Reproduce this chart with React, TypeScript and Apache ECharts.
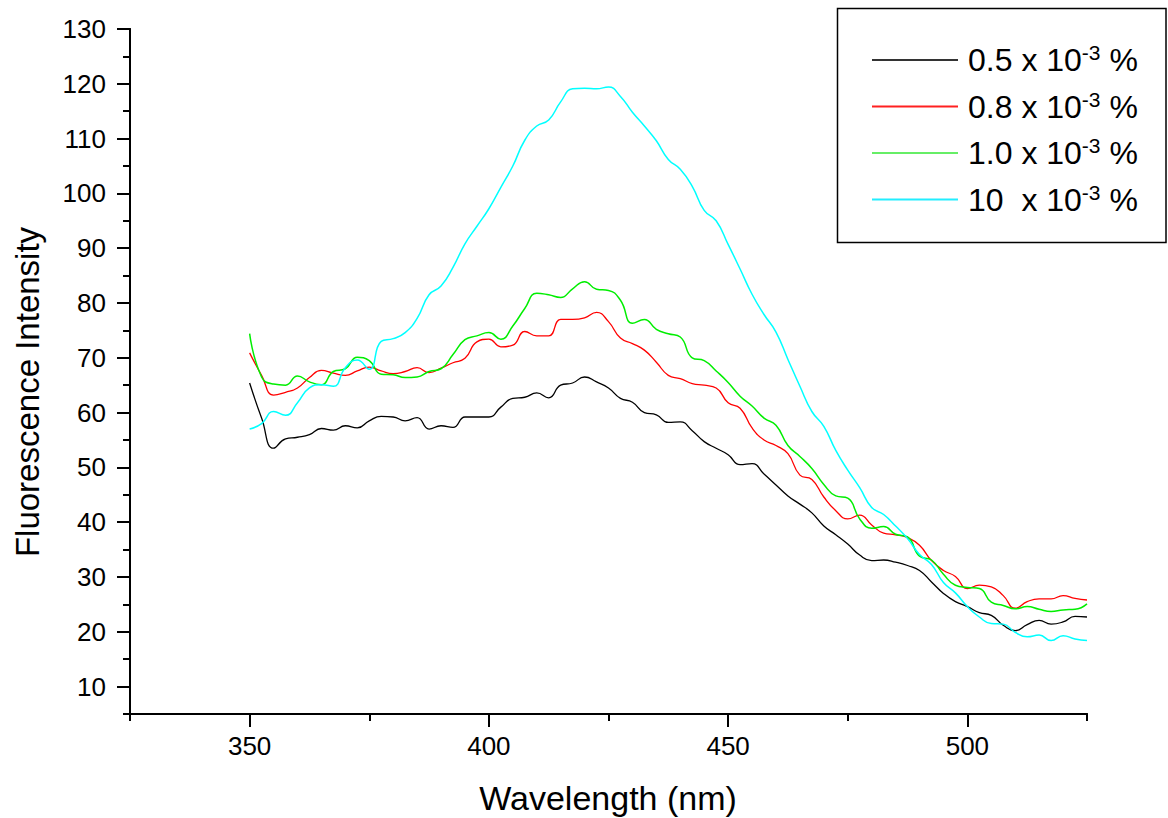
import React, { useEffect, useRef } from "react";
import * as echarts from "echarts";

const FONT = "'Liberation Sans', Arial, sans-serif";

const WAVELENGTH = [
  350, 352.5, 355, 357.5, 360, 362.5, 365, 367.5, 370, 372.5, 375, 377.5, 380, 382.5, 385, 387.5,
  390, 392.5, 395, 397.5, 400, 402.5, 405, 407.5, 410, 412.5, 415, 417.5, 420, 422.5, 425, 427.5,
  430, 432.5, 435, 437.5, 440, 442.5, 445, 447.5, 450, 452.5, 455, 457.5, 460, 462.5, 465, 467.5,
  470, 472.5, 475, 477.5, 480, 482.5, 485, 487.5, 490, 492.5, 495, 497.5, 500, 502.5, 505, 507.5,
  510, 512.5, 515, 517.5, 520, 522.5, 525,
];

const BLACK_05 = [
  65.4, 59.0, 53.5, 55.2, 55.5, 56.0, 57.1, 56.8, 57.6, 57.2, 58.5, 59.3, 59.2, 58.5, 59.1, 57.0,
  57.6, 57.3, 59.2, 59.2, 59.2, 61.0, 62.6, 62.8, 63.6, 62.7, 65.0, 65.4, 66.5, 65.6, 64.5, 62.6,
  61.9, 60.0, 59.6, 58.2, 58.3, 56.7, 54.7, 53.5, 52.3, 50.5, 50.7, 48.8, 46.8, 44.8, 43.3, 41.7,
  39.3, 37.7, 36.0, 34.0, 33.0, 33.1, 32.7, 32.1, 31.2, 29.1, 27.0, 25.5, 24.6, 23.5, 23.0, 21.2,
  20.2, 21.3, 22.1, 21.4, 21.8, 22.8, 22.7,
];

const RED_08 = [
  70.9, 66.8, 63.2, 63.7, 64.5, 66.4, 67.7, 67.2, 66.8, 67.6, 68.3, 67.6, 67.1, 67.5, 68.2, 67.3,
  68.1, 69.1, 69.9, 72.9, 73.4, 72.0, 72.3, 74.8, 74.0, 74.0, 77.0, 77.0, 77.3, 78.3, 76.6, 73.6,
  72.6, 71.4, 69.2, 66.8, 66.2, 65.3, 65.0, 64.5, 61.8, 60.8, 57.2, 55.0, 54.0, 52.5, 48.6, 47.8,
  44.6, 42.1, 40.6, 41.3, 39.5, 38.0, 37.7, 37.2, 35.8, 33.0, 31.2, 30.1, 27.9, 28.5, 28.2, 26.6,
  24.3, 25.5, 26.0, 26.0, 26.6, 26.1, 25.8,
];

const GREEN_10 = [
  74.4, 66.5, 65.2, 65.0, 66.7, 65.6, 65.1, 67.5, 68.0, 70.1, 69.5, 67.0, 66.9, 66.4, 66.5, 67.5,
  68.0, 70.6, 73.3, 74.0, 74.6, 73.4, 75.8, 79.0, 81.8, 81.5, 81.0, 82.6, 83.9, 82.5, 82.3, 80.5,
  76.3, 77.0, 75.2, 74.4, 73.8, 70.0, 69.5, 67.6, 65.5, 63.0, 61.2, 59.0, 57.7, 54.0, 52.0, 49.8,
  46.9, 44.8, 44.4, 40.6, 38.9, 39.2, 37.8, 37.3, 33.8, 33.1, 30.5, 28.5, 28.1, 27.9, 25.4, 24.8,
  24.2, 24.6, 24.1, 23.7, 24.0, 24.1, 25.1,
];

const CYAN_100 = [
  57.0, 58.0, 60.2, 59.5, 61.8, 64.5, 65.1, 64.8, 68.2, 69.6, 67.9, 73.0, 73.5, 74.6, 77.2, 81.5,
  83.1, 86.5, 90.8, 94.0, 97.2, 101.1, 105.0, 109.7, 112.3, 113.4, 116.7, 119.1, 119.2, 119.1, 119.4, 117.7,
  114.8, 112.3, 109.6, 106.2, 104.4, 101.3, 96.9, 95.0, 90.7, 86.2, 81.6, 77.9, 74.7, 69.7, 64.8, 60.2,
  57.5, 53.1, 49.5, 46.3, 42.7, 41.4, 39.3, 37.0, 34.1, 32.3, 29.0, 27.1, 24.6, 22.7, 21.5, 21.4,
  19.9, 19.1, 19.4, 18.4, 19.3, 18.7, 18.4,
];

const LEGEND_PREFIX = ["0.5 x 10", "0.8 x 10", "1.0 x 10", "10  x 10"];
const EXPONENT = "-3";
const SUFFIX = " %";
const SERIES_VALUES = [BLACK_05, RED_08, GREEN_10, CYAN_100];
const SERIES_COLORS = ["#000000", "#ff0000", "#00ee00", "#00ffff"];
const LEGEND_COLORS = ["#333333", "#ff2020", "#66ee66", "#22eeff"];
const SERIES_WIDTHS = [1.3, 1.3, 1.5, 1.5];

const X_MAJOR = [350, 400, 450, 500];
const Y_MAJOR = [10, 20, 30, 40, 50, 60, 70, 80, 90, 100, 110, 120, 130];

const X_TITLE = "Wavelength (nm)";
const Y_TITLE = "Fluorescence Intensity";

export default function App() {
  const ref = useRef<HTMLDivElement>(null);

  useEffect(() => {
    if (!ref.current) return;
    const chart = echarts.init(ref.current, null, { renderer: "svg" });
    const names = LEGEND_PREFIX.map((p) => p + EXPONENT + SUFFIX);

    const axisLine = { show: true, lineStyle: { color: "#000", width: 2 } };

    chart.setOption({
      animation: false,
      backgroundColor: "#ffffff",
      grid: { left: 130, top: 29, right: 81, bottom: 104, containLabel: false },
      xAxis: [
        {
          type: "value",
          min: 325,
          max: 525,
          axisLine,
          splitLine: { show: false },
          axisTick: { show: true, customValues: X_MAJOR, length: 13, lineStyle: { color: "#000", width: 2 } },
          axisLabel: {
            show: true,
            customValues: X_MAJOR,
            margin: 19,
            color: "#000",
            fontSize: 26,
            fontFamily: FONT,
          },
        },
        {
          type: "value",
          min: 325,
          max: 525,
          interval: 25,
          position: "bottom",
          axisLine,
          splitLine: { show: false },
          axisTick: { show: true, length: 7, lineStyle: { color: "#000", width: 2 } },
          axisLabel: { show: false },
        },
      ],
      yAxis: [
        {
          type: "value",
          min: 5,
          max: 130,
          axisLine,
          splitLine: { show: false },
          axisTick: { show: true, customValues: Y_MAJOR, length: 13, lineStyle: { color: "#000", width: 2 } },
          axisLabel: {
            show: true,
            customValues: Y_MAJOR,
            margin: 24,
            color: "#000",
            fontSize: 26,
            fontFamily: FONT,
          },
        },
        {
          type: "value",
          min: 5,
          max: 130,
          interval: 5,
          position: "left",
          axisLine,
          splitLine: { show: false },
          axisTick: { show: true, length: 7, lineStyle: { color: "#000", width: 2 } },
          axisLabel: { show: false },
        },
      ],
      legend: {
        orient: "vertical",
        left: 872,
        top: 42,
        padding: 0,
        icon: "rect",
        itemWidth: 86,
        itemHeight: 1.8,
        itemGap: 12.5,
        data: names.map((n, i) => ({ name: n, itemStyle: { color: LEGEND_COLORS[i] } })),
        formatter: (name: string) => {
          const i = names.indexOf(name);
          return `{n|${LEGEND_PREFIX[i]}}{s|${EXPONENT}}{n|${SUFFIX}}`;
        },
        textStyle: {
          padding: [0, 0, 0, 5],
          rich: {
            n: { fontSize: 32, fontFamily: FONT, color: "#000", lineHeight: 36 },
            s: { fontSize: 21, fontFamily: FONT, color: "#000", lineHeight: 22, verticalAlign: "top" },
          },
        },
      },
      series: SERIES_VALUES.map((vals, i) => ({
        type: "line",
        name: names[i],
        xAxisIndex: 0,
        yAxisIndex: 0,
        data: WAVELENGTH.map((w, k) => [w, vals[k]]),
        symbol: "none",
        smooth: 0.5,
        lineStyle: { color: SERIES_COLORS[i], width: SERIES_WIDTHS[i] },
        itemStyle: { color: SERIES_COLORS[i] },
        emphasis: { disabled: true },
      })),
      graphic: [
        {
          type: "rect",
          shape: { x: 837.5, y: 8.5, width: 328.5, height: 234 },
          style: { fill: "none", stroke: "#000", lineWidth: 1.5 },
          silent: true,
        },
        {
          type: "text",
          x: 608,
          y: 798,
          style: {
            text: X_TITLE,
            fontSize: 34,
            fontFamily: FONT,
            fill: "#000",
            align: "center",
            verticalAlign: "middle",
          },
        },
        {
          type: "text",
          x: 27,
          y: 392,
          rotation: Math.PI / 2,
          style: {
            text: Y_TITLE,
            fontSize: 33,
            fontFamily: FONT,
            fill: "#000",
            align: "center",
            verticalAlign: "middle",
          },
        },
      ],
    });

    return () => chart.dispose();
  }, []);

  return (
    <div
      ref={ref}
      style={{ position: "absolute", left: 0, top: 0, width: 1168, height: 818, background: "#fff" }}
    />
  );
}
